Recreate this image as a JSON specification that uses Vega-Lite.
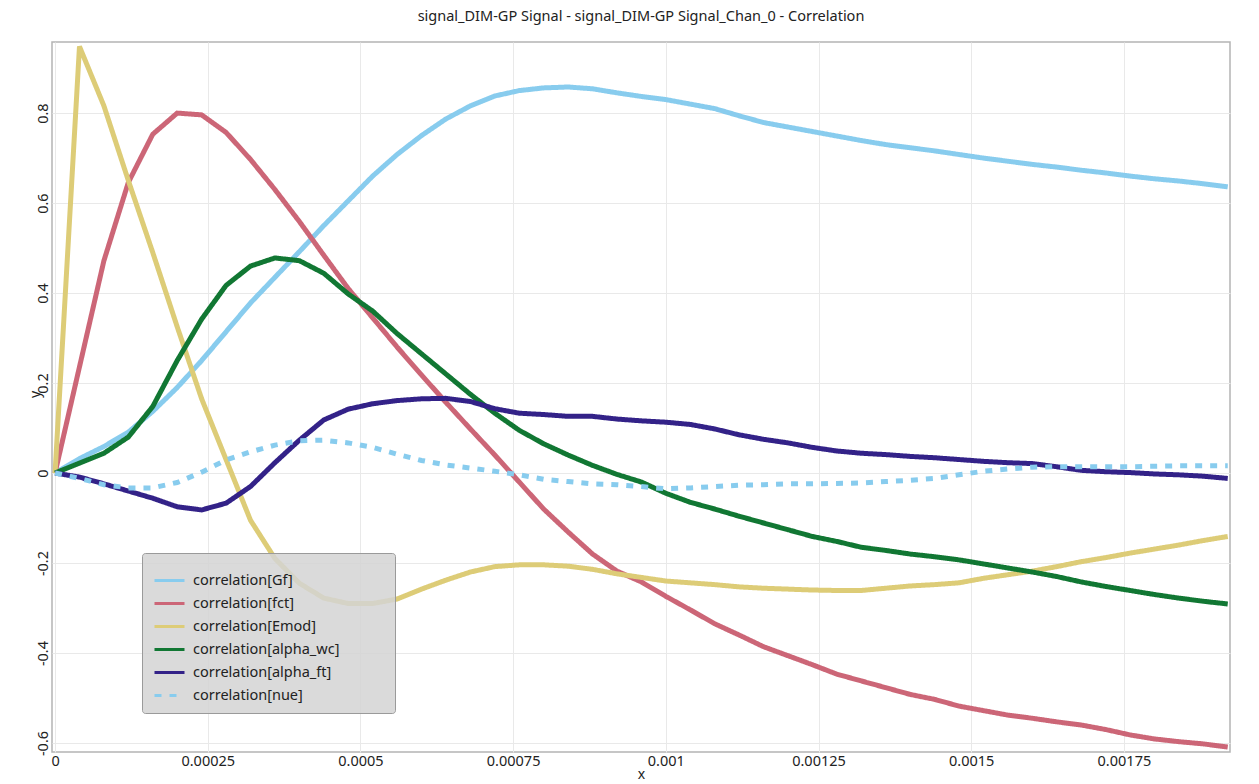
{
  "$schema": "https://vega.github.io/schema/vega-lite/v6.json",
  "width": 1178,
  "height": 710,
  "autosize": "none",
  "padding": {"left": 52, "top": 42, "right": 29, "bottom": 32},
  "background": "white",
  "title": {"text": "signal_DIM-GP Signal - signal_DIM-GP Signal_Chan_0 - Correlation", "font": "Noto Sans", "fontSize": 14.5, "fontWeight": "normal", "color": "#222222", "offset": 18, "anchor": "middle"},
  "config": {
    "font": "Noto Sans",
    "view": {"stroke": "#b4b4b4", "strokeWidth": 1.5},
    "axis": {"labelFont": "Noto Sans", "titleFont": "Noto Sans", "labelFontSize": 14.5, "titleFontSize": 14, "labelColor": "#222222", "titleColor": "#222222", "titleFontWeight": "normal", "gridColor": "#e9e9e9", "gridWidth": 1, "domain": false, "ticks": false, "tickSize": 0}
  },
  "data": {"values": [
    {"x": 0, "Gf": 0, "fct": 0, "Emod": 0, "alpha_wc": 0, "alpha_ft": 0, "nue": 0},
    {"x": 0.00004, "Gf": 0.032, "fct": 0.236, "Emod": 0.948, "alpha_wc": 0.022, "alpha_ft": -0.009, "nue": -0.012},
    {"x": 0.00008, "Gf": 0.059, "fct": 0.472, "Emod": 0.816, "alpha_wc": 0.044, "alpha_ft": -0.024, "nue": -0.026},
    {"x": 0.00012, "Gf": 0.091, "fct": 0.646, "Emod": 0.65, "alpha_wc": 0.08, "alpha_ft": -0.04, "nue": -0.033},
    {"x": 0.00016, "Gf": 0.137, "fct": 0.753, "Emod": 0.49, "alpha_wc": 0.148, "alpha_ft": -0.056, "nue": -0.033},
    {"x": 0.0002, "Gf": 0.19, "fct": 0.8, "Emod": 0.325, "alpha_wc": 0.25, "alpha_ft": -0.075, "nue": -0.021},
    {"x": 0.00024, "Gf": 0.25, "fct": 0.796, "Emod": 0.165, "alpha_wc": 0.342, "alpha_ft": -0.082, "nue": 0.002},
    {"x": 0.00028, "Gf": 0.314, "fct": 0.757, "Emod": 0.03, "alpha_wc": 0.417, "alpha_ft": -0.067, "nue": 0.029},
    {"x": 0.00032, "Gf": 0.378, "fct": 0.697, "Emod": -0.105, "alpha_wc": 0.46, "alpha_ft": -0.03, "nue": 0.047},
    {"x": 0.00036, "Gf": 0.435, "fct": 0.63, "Emod": -0.19, "alpha_wc": 0.478, "alpha_ft": 0.023, "nue": 0.062},
    {"x": 0.0004, "Gf": 0.492, "fct": 0.559, "Emod": -0.245, "alpha_wc": 0.472, "alpha_ft": 0.073, "nue": 0.072},
    {"x": 0.00044, "Gf": 0.55, "fct": 0.484, "Emod": -0.278, "alpha_wc": 0.444, "alpha_ft": 0.118, "nue": 0.073},
    {"x": 0.00048, "Gf": 0.605, "fct": 0.41, "Emod": -0.29, "alpha_wc": 0.398, "alpha_ft": 0.142, "nue": 0.067},
    {"x": 0.00052, "Gf": 0.66, "fct": 0.345, "Emod": -0.29, "alpha_wc": 0.36, "alpha_ft": 0.154, "nue": 0.057},
    {"x": 0.00056, "Gf": 0.708, "fct": 0.28, "Emod": -0.28, "alpha_wc": 0.31, "alpha_ft": 0.161, "nue": 0.042},
    {"x": 0.0006, "Gf": 0.75, "fct": 0.218, "Emod": -0.258, "alpha_wc": 0.265, "alpha_ft": 0.165, "nue": 0.028},
    {"x": 0.00064, "Gf": 0.787, "fct": 0.157, "Emod": -0.238, "alpha_wc": 0.22, "alpha_ft": 0.166, "nue": 0.018},
    {"x": 0.00068, "Gf": 0.816, "fct": 0.098, "Emod": -0.22, "alpha_wc": 0.175, "alpha_ft": 0.159, "nue": 0.011},
    {"x": 0.00072, "Gf": 0.838, "fct": 0.04, "Emod": -0.208, "alpha_wc": 0.133, "alpha_ft": 0.143, "nue": 0.004},
    {"x": 0.00076, "Gf": 0.85, "fct": -0.02, "Emod": -0.204, "alpha_wc": 0.095, "alpha_ft": 0.133, "nue": -0.004},
    {"x": 0.0008, "Gf": 0.856, "fct": -0.08, "Emod": -0.204, "alpha_wc": 0.065, "alpha_ft": 0.13, "nue": -0.014},
    {"x": 0.00084, "Gf": 0.858, "fct": -0.131, "Emod": -0.207, "alpha_wc": 0.04, "alpha_ft": 0.126, "nue": -0.019},
    {"x": 0.00088, "Gf": 0.854, "fct": -0.18, "Emod": -0.214, "alpha_wc": 0.017, "alpha_ft": 0.126, "nue": -0.024},
    {"x": 0.00092, "Gf": 0.845, "fct": -0.218, "Emod": -0.224, "alpha_wc": -0.003, "alpha_ft": 0.12, "nue": -0.026},
    {"x": 0.00096, "Gf": 0.837, "fct": -0.242, "Emod": -0.232, "alpha_wc": -0.02, "alpha_ft": 0.116, "nue": -0.03},
    {"x": 0.001, "Gf": 0.83, "fct": -0.274, "Emod": -0.24, "alpha_wc": -0.045, "alpha_ft": 0.113, "nue": -0.035},
    {"x": 0.00104, "Gf": 0.82, "fct": -0.304, "Emod": -0.244, "alpha_wc": -0.065, "alpha_ft": 0.108, "nue": -0.033},
    {"x": 0.00108, "Gf": 0.81, "fct": -0.335, "Emod": -0.248, "alpha_wc": -0.08, "alpha_ft": 0.098, "nue": -0.03},
    {"x": 0.00112, "Gf": 0.794, "fct": -0.36, "Emod": -0.253, "alpha_wc": -0.096, "alpha_ft": 0.085, "nue": -0.027},
    {"x": 0.00116, "Gf": 0.779, "fct": -0.386, "Emod": -0.256, "alpha_wc": -0.111, "alpha_ft": 0.075, "nue": -0.026},
    {"x": 0.0012, "Gf": 0.769, "fct": -0.406, "Emod": -0.258, "alpha_wc": -0.126, "alpha_ft": 0.067, "nue": -0.024},
    {"x": 0.00124, "Gf": 0.759, "fct": -0.426, "Emod": -0.26, "alpha_wc": -0.141, "alpha_ft": 0.057, "nue": -0.024},
    {"x": 0.00128, "Gf": 0.749, "fct": -0.447, "Emod": -0.261, "alpha_wc": -0.152, "alpha_ft": 0.049, "nue": -0.023},
    {"x": 0.00132, "Gf": 0.739, "fct": -0.462, "Emod": -0.261, "alpha_wc": -0.165, "alpha_ft": 0.044, "nue": -0.022},
    {"x": 0.00136, "Gf": 0.73, "fct": -0.477, "Emod": -0.256, "alpha_wc": -0.172, "alpha_ft": 0.041, "nue": -0.019},
    {"x": 0.0014, "Gf": 0.723, "fct": -0.492, "Emod": -0.251, "alpha_wc": -0.18, "alpha_ft": 0.037, "nue": -0.016},
    {"x": 0.00144, "Gf": 0.716, "fct": -0.503, "Emod": -0.248, "alpha_wc": -0.186, "alpha_ft": 0.034, "nue": -0.012},
    {"x": 0.00148, "Gf": 0.708, "fct": -0.518, "Emod": -0.244, "alpha_wc": -0.193, "alpha_ft": 0.03, "nue": -0.004},
    {"x": 0.00152, "Gf": 0.7, "fct": -0.528, "Emod": -0.234, "alpha_wc": -0.202, "alpha_ft": 0.026, "nue": 0.004},
    {"x": 0.00156, "Gf": 0.693, "fct": -0.538, "Emod": -0.226, "alpha_wc": -0.211, "alpha_ft": 0.023, "nue": 0.009},
    {"x": 0.0016, "Gf": 0.686, "fct": -0.545, "Emod": -0.218, "alpha_wc": -0.22, "alpha_ft": 0.021, "nue": 0.013},
    {"x": 0.00164, "Gf": 0.68, "fct": -0.553, "Emod": -0.208, "alpha_wc": -0.23, "alpha_ft": 0.014, "nue": 0.014},
    {"x": 0.00168, "Gf": 0.673, "fct": -0.56, "Emod": -0.197, "alpha_wc": -0.242, "alpha_ft": 0.006, "nue": 0.014},
    {"x": 0.00172, "Gf": 0.667, "fct": -0.57, "Emod": -0.188, "alpha_wc": -0.252, "alpha_ft": 0.003, "nue": 0.014},
    {"x": 0.00176, "Gf": 0.66, "fct": -0.582, "Emod": -0.178, "alpha_wc": -0.261, "alpha_ft": 0.001, "nue": 0.014},
    {"x": 0.0018, "Gf": 0.654, "fct": -0.591, "Emod": -0.169, "alpha_wc": -0.27, "alpha_ft": -0.002, "nue": 0.015},
    {"x": 0.00184, "Gf": 0.649, "fct": -0.597, "Emod": -0.16, "alpha_wc": -0.278, "alpha_ft": -0.004, "nue": 0.016},
    {"x": 0.00188, "Gf": 0.643, "fct": -0.602, "Emod": -0.15, "alpha_wc": -0.285, "alpha_ft": -0.007, "nue": 0.016},
    {"x": 0.00192, "Gf": 0.636, "fct": -0.609, "Emod": -0.141, "alpha_wc": -0.291, "alpha_ft": -0.012, "nue": 0.016}
  ]},
  "transform": [{"fold": ["Gf", "fct", "Emod", "alpha_wc", "alpha_ft", "nue"], "as": ["series", "y"]}],
  "mark": {"type": "line", "strokeWidth": 5, "clip": true},
  "encoding": {
    "x": {"field": "x", "type": "quantitative", "title": "x",
      "scale": {"domain": [-0.000005, 0.0019237], "nice": false, "zero": false},
      "axis": {"values": [0, 0.00025, 0.0005, 0.00075, 0.001, 0.00125, 0.0015, 0.00175], "labelExpr": "toString(datum.value)", "labelPadding": 2, "titlePadding": 0, "grid": true}},
    "y": {"field": "y", "type": "quantitative", "title": "y",
      "scale": {"domain": [-0.62, 0.958], "nice": false, "zero": false},
      "axis": {"values": [-0.6, -0.4, -0.2, 0, 0.2, 0.4, 0.6, 0.8], "labelExpr": "toString(datum.value)", "labelAngle": 270, "labelAlign": "center", "labelBaseline": "bottom", "labelPadding": 2, "titleAngle": 270, "titleAlign": "center", "titleBaseline": "middle", "titleX": -17, "titleY": 352, "grid": true}},
    "color": {"field": "series", "type": "nominal",
      "scale": {"domain": ["Gf", "fct", "Emod", "alpha_wc", "alpha_ft", "nue"], "range": ["#88CCEE", "#CC6677", "#DDCC77", "#117733", "#332288", "#88CCEE"]},
      "legend": {"title": null, "orient": "none", "legendX": 90, "legendY": 511, "fillColor": "rgba(212,212,212,0.85)", "strokeColor": "#9a9a9a", "cornerRadius": 3, "padding": 11, "rowPadding": -2, "symbolType": "stroke", "symbolSize": 900, "symbolStrokeWidth": 3, "labelFont": "Noto Sans", "labelFontSize": 14.5, "labelColor": "#222222", "labelOffset": 7, "labelLimit": 400, "labelExpr": "'correlation[' + datum.label + ']\u2800\u2800\u2800\u2800'"}},
    "strokeDash": {"field": "series", "type": "nominal",
      "scale": {"domain": ["Gf", "fct", "Emod", "alpha_wc", "alpha_ft", "nue"], "range": [[1, 0], [1, 0], [1, 0], [1, 0], [1, 0], [7, 8]]},
      "legend": {"title": null, "orient": "none", "legendX": 90, "legendY": 511, "fillColor": "rgba(212,212,212,0.85)", "strokeColor": "#9a9a9a", "cornerRadius": 3, "padding": 11, "rowPadding": -2, "symbolType": "stroke", "symbolSize": 900, "symbolStrokeWidth": 3, "labelFont": "Noto Sans", "labelFontSize": 14.5, "labelColor": "#222222", "labelOffset": 7, "labelLimit": 400, "labelExpr": "'correlation[' + datum.label + ']\u2800\u2800\u2800\u2800'"}}
  }
}
